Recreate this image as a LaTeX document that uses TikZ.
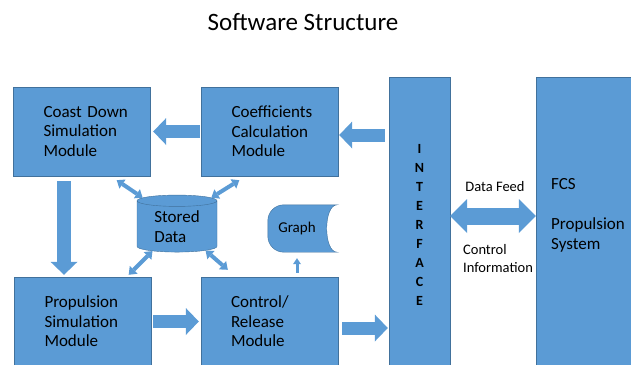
\documentclass[tikz,border=0pt]{standalone}
\usepackage{fontspec}
\setmainfont{Carlito}
\usetikzlibrary{arrows.meta,shapes.geometric,positioning}
\definecolor{boxfill}{HTML}{5B9BD5}
\definecolor{boxline}{HTML}{41719C}

\begin{document}
\begin{tikzpicture}[x=1pt,y=-1pt,
  module/.style={rectangle,draw=boxline,fill=boxfill,minimum width=137pt,minimum height=89pt,text width=77pt,align=left,inner sep=0pt,font=\fontsize{17}{19.5}\selectfont},
  tall/.style={rectangle,draw=boxline,fill=boxfill,minimum height=295pt,inner sep=0pt},
  store/.style={cylinder,shape border rotate=90,aspect=0.25,draw=boxline,fill=boxfill,minimum width=80pt,minimum height=57pt,inner sep=0pt,align=left,font=\fontsize{17}{19.5}\selectfont},
  small/.style={font=\fontsize{14.5}{18}\selectfont,align=left},
  bigarrow/.style={draw=boxfill,line width=13pt,-{Triangle[length=13pt,width=27pt,line width=0pt]}},
  dblarrow/.style={draw=boxfill,line width=17pt,{Triangle[length=17pt,width=34pt,line width=0pt]}-{Triangle[length=17pt,width=34pt,line width=0pt]}},
  smallarrow/.style={draw=boxfill,line width=4pt,{Triangle[length=7pt,width=11pt,line width=0pt]}-{Triangle[length=7pt,width=11pt,line width=0pt]}},
  tinyarrow/.style={draw=boxfill,line width=3pt,-{Triangle[length=6pt,width=8pt,line width=0pt]}}]
\useasboundingbox (0,0) rectangle (631,364);
\clip (0,0) rectangle (631,364);

\node[font=\fontsize{25}{30}\selectfont] (title) at (303,22) {Software Structure};

\node[module] (coast) at (82,131.5) {Coast~Down\\Simulation\\Module};
\node[module] (coef) at (270,131.5) {Coefficients\\Calculation\\Module};
\node[module] (prop) at (83,321.5) {Propulsion\\Simulation\\Module};
\node[module] (ctrl) at (269.5,321.5) {Control/\\Release\\Module};
\node[tall,minimum width=61pt,align=center,font=\bfseries\fontsize{14}{19}\selectfont] (iface) at (419.5,224.5) {I\\N\\T\\E\\R\\F\\A\\C\\E};
\node[tall,minimum width=100pt] (fcs) at (586,224.5) {};
\node[align=left,inner sep=0pt,font=\fontsize{17}{20}\selectfont] (fcstext) at (588,215.5) {FCS\\[20pt]Propulsion\\System};
\node[store] (store) at (177,226.5) {Stored\\Data};
\node[minimum width=58pt,minimum height=47pt,inner sep=0pt,font=\fontsize{15}{18}\selectfont] (graph) at (297,228.5) {};
\fill[boxfill,draw=boxline] ([xshift=11pt]graph.north east) [rounded corners=16pt] -- (graph.north west) -- (graph.south west) [sharp corners] -- ([xshift=11pt]graph.south east)
  .. controls ([xshift=-3pt]graph.south east) and ([xshift=-3pt]graph.north east) .. cycle;
\node[font=\fontsize{15}{18}\selectfont] at (graph) {Graph};

\node[small] (feed) at (495,187) {Data Feed};
\node[small] (info) at (498,259) {Control\\Information};

\draw[bigarrow,shorten <=1.5pt,shorten >=2.5pt] (coef.west) -- (coast.east);
\draw[bigarrow,shorten <=4pt,shorten >=0.5pt] ([yshift=-3.5pt]iface.west |- coef.east) -- ([yshift=-3.5pt]coef.east);
\draw[bigarrow,line width=14pt,shorten <=5pt,shorten >=2pt] ([xshift=-18pt]coast.south) -- ([xshift=-19pt]prop.north);
\draw[bigarrow,shorten <=1.5pt,shorten >=2pt] (prop.east) -- (ctrl.west);
\draw[bigarrow,shorten <=4pt,shorten >=1pt] ([yshift=-6.5pt]ctrl.east) -- ([yshift=-6.5pt]ctrl.east -| iface.west);
\draw[dblarrow] ([yshift=8.5pt]iface.east) -- ([yshift=8.5pt]fcs.west);

\draw[smallarrow] ([xshift=-34pt,yshift=-4pt]coast.south east) -- (store.140);
\draw[smallarrow] ([xshift=38pt,yshift=-4pt]coef.south west) -- (store.40);
\draw[smallarrow] (store.225) -- ([xshift=-23pt,yshift=2pt]prop.north east);
\draw[smallarrow] (store.320) -- ([xshift=27pt,yshift=7pt]ctrl.north west);
\draw[tinyarrow,shorten <=4pt,shorten >=6pt] (graph.south |- ctrl.north) -- (graph.south);
\end{tikzpicture}
\end{document}
